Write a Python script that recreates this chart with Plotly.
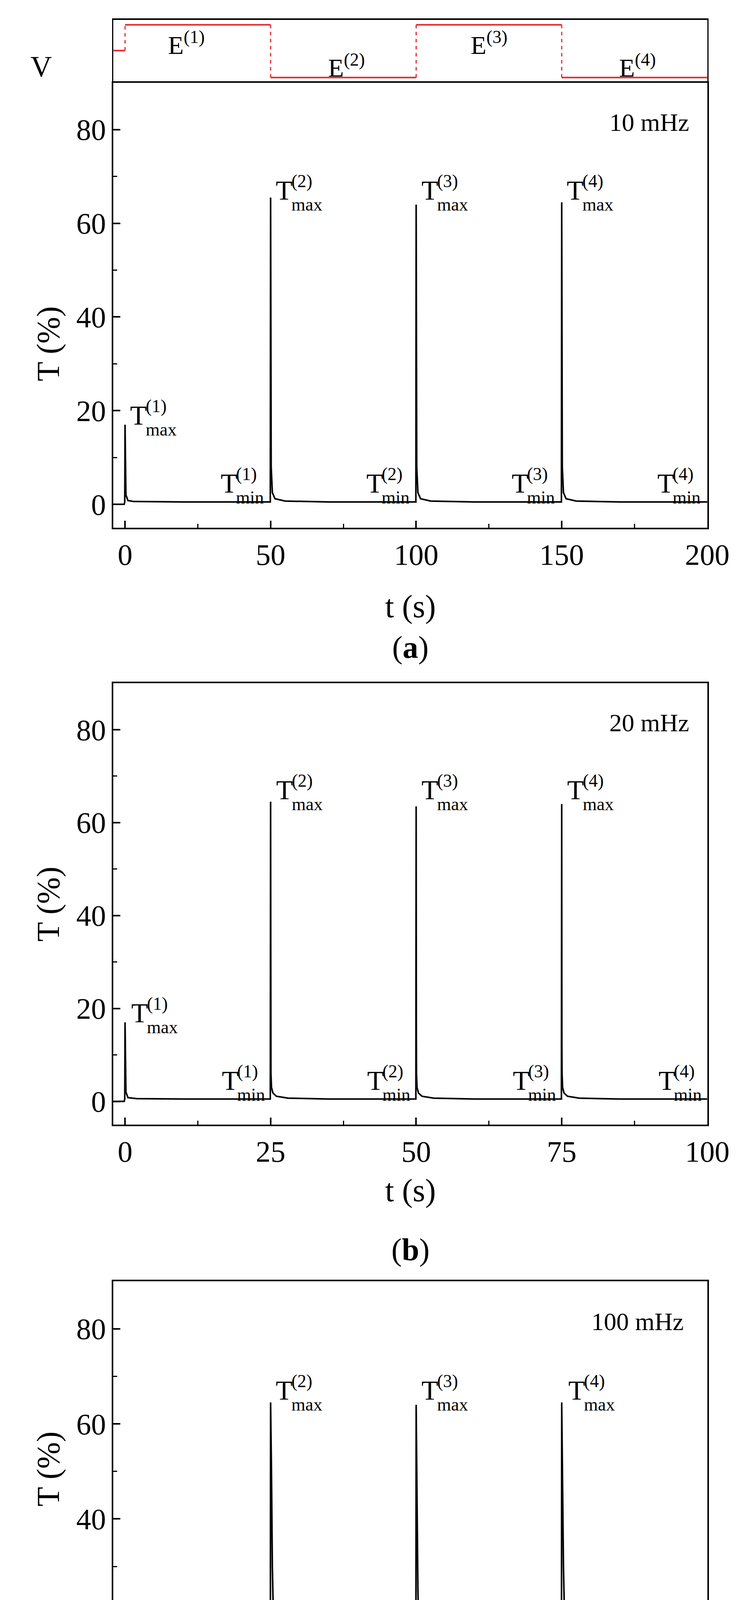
import plotly.graph_objects as go

W, H = 1915, 4806
FONT = "Liberation Serif"

# panel (a) 10 mHz
t_a = [-4, -0.3, -0.1, 0, 0.3, 1, 3, 20, 49.9, 50, 50.2, 50.6, 51.5, 55, 70,
       99.9, 100, 100.2, 100.6, 101.5, 105, 120, 149.9, 150, 150.2, 150.6, 151.5, 155, 170, 200]
T_a = [0, 0, 0.5, 17, 2, 0.8, 0.6, 0.5, 0.5, 65.5, 8, 2.5, 1.2, 0.7, 0.5,
       0.5, 64, 8, 2.5, 1.2, 0.7, 0.5, 0.5, 64.5, 8, 2.5, 1.2, 0.7, 0.5, 0.5]

# panel (b) 20 mHz
t_b = [-2, -0.15, -0.05, 0, 0.15, 0.5, 2, 10,
       24.95, 25, 25.03, 25.06, 25.15, 25.4, 26, 28, 35,
       49.95, 50, 50.03, 50.06, 50.15, 50.4, 51, 53, 60,
       74.95, 75, 75.03, 75.06, 75.15, 75.4, 76, 78, 85, 100]
T_b = [0, 0, 0.5, 17, 2, 0.8, 0.6, 0.5,
       0.5, 64.5, 33, 6, 3, 1.8, 1.1, 0.7, 0.5,
       0.5, 63.5, 17.5, 6, 3, 1.8, 1.1, 0.7, 0.5,
       0.5, 64, 12, 6, 3, 1.8, 1.1, 0.7, 0.5, 0.5]

# panel (c) 100 mHz
t_c = [-0.4, -0.05, -0.02, 0, 0.03, 0.06, 0.1, 0.2, 0.4, 1, 2,
       4.99, 5, 5.03, 5.06, 5.1, 5.15, 5.2, 5.3, 5.45, 5.6, 5.8, 6.1, 6.5, 7, 8, 9,
       9.99, 10, 10.03, 10.06, 10.1, 10.15, 10.2, 10.3, 10.45, 10.6, 10.8, 11.1, 11.5, 12, 13, 14,
       14.99, 15, 15.03, 15.06, 15.1, 15.15, 15.2, 15.3, 15.45, 15.6, 15.8, 16.1, 16.5, 17, 18, 19, 20]
T_c = [-0.2, -0.2, 0.3, 17.2, 8, 3, 1.5, 0.9, 0.7, 0.6, 0.5,
       0.4, 64.5, 50, 30, 18, 12, 9, 6, 4, 3, 2.2, 1.6, 1.2, 0.9, 0.6, 0.5,
       0.4, 64, 45, 25, 15, 10, 7.5, 5, 3.5, 2.6, 2, 1.5, 1.1, 0.8, 0.6, 0.5,
       0.4, 64.5, 50, 30, 18, 12, 9, 6, 4, 3, 2.2, 1.6, 1.2, 0.9, 0.6, 0.5, 0.4]

# voltage steps (top strip)
v_t = [-4, 0, 50, 100, 150, 200]
v_level = [0.5, 0.92, 0.06, 0.92, 0.06]
e_labels = ["E<sup>(1)</sup>", "E<sup>(2)</sup>", "E<sup>(3)</sup>", "E<sup>(4)</sup>"]
e_pos = [(21, 0.62), (76, 0.25), (125, 0.62), (176, 0.25)]

panels = [
    dict(t=t_a, T=T_a, xr=[-4, 200], dt=50, minor=25, tag="10 mHz", tagx=180,
         tmax=[(1.5, 19), (51.5, 67), (101.5, 67), (151.5, 67)],
         tmin=[(48, 4.5), (98, 4.5), (148, 4.5), (198, 4.5)],
         top=204, bot=1343, xlab=1497, letter="a", lety=1650),
    dict(t=t_b, T=T_b, xr=[-2, 100], dt=25, minor=12.5, tag="20 mHz", tagx=90,
         tmax=[(0.9, 19), (25.8, 67), (50.8, 67), (75.8, 67)],
         tmin=[(24.2, 4.5), (49.2, 4.5), (74.2, 4.5), (99.2, 4.5)],
         top=1741, bot=2871, xlab=3039, letter="b", lety=3191),
    dict(t=t_c, T=T_c, xr=[-0.4, 20], dt=5, minor=2.5, tag="100 mHz", tagx=17.6,
         tmax=[(0.4, 19), (5.15, 67), (10.15, 67), (15.2, 67)],
         tmin=[(4.8, 4.5), (9.8, 4.5), (14.8, 4.5), (19.8, 4.5)],
         top=3272, bot=4428, xlab=4616, letter="c", lety=4760),
]

x0, x1 = 291 / W, 1858 / W
def py(px):
    return 1 - px / H

fig = go.Figure()
annots = []

axis_common = dict(showline=True, linecolor="black", linewidth=4, mirror=True,
                   showgrid=False, zeroline=False, ticks="inside", ticklen=18,
                   tickwidth=4, tickcolor="black",
                   tickfont=dict(family=FONT, size=76, color="black"))

for i, p in enumerate(panels):
    n = i + 1
    xa, ya = f"x{n}", f"y{n}"
    fig.add_trace(go.Scatter(x=p["t"], y=p["T"], mode="lines", xaxis=xa, yaxis=ya,
                             line=dict(color="black", width=4), showlegend=False))
    fig.layout[f"xaxis{n}"] = dict(axis_common, domain=[x0, x1], anchor=ya, range=p["xr"],
                                   tick0=0, dtick=p["dt"],
                                   minor=dict(ticks="inside", ticklen=10, tickwidth=3,
                                              dtick=p["minor"], tick0=0, tickcolor="black"))
    fig.layout[f"yaxis{n}"] = dict(axis_common, domain=[py(p["bot"]), py(p["top"])],
                                   anchor=xa, range=[-5, 90], tickvals=[0, 20, 40, 60, 80],
                                   minor=dict(ticks="inside", ticklen=10, tickwidth=3,
                                              tickvals=[10, 30, 50, 70], tickcolor="black"))
    mid_x = (x0 + x1) / 2
    annots.append(dict(text="t (s)", xref="paper", yref="paper", x=mid_x, y=py(p["xlab"]),
                       showarrow=False, font=dict(family=FONT, size=82, color="black")))
    annots.append(dict(text=f"(<b>{p['letter']}</b>)", xref="paper", yref="paper", x=mid_x,
                       y=py(p["lety"]), showarrow=False,
                       font=dict(family=FONT, size=80, color="black")))
    annots.append(dict(text="T (%)", xref="paper", yref="paper", x=70 / W,
                       y=py((p["top"] + p["bot"]) / 2), textangle=-90, showarrow=False,
                       font=dict(family=FONT, size=82, color="black")))
    annots.append(dict(text=p["tag"], xref=xa, yref=ya, x=p["tagx"], y=81.5,
                       showarrow=False, font=dict(family=FONT, size=64, color="black")))
    for k, (tx, ty) in enumerate(p["tmax"]):
        annots.append(dict(text="T", xref=xa, yref=ya, x=tx, y=ty, xanchor="left",
                           showarrow=False, font=dict(family=FONT, size=70, color="black")))
        annots.append(dict(text=f"({k + 1})<br>max", xref=xa, yref=ya, x=tx, y=ty,
                           xanchor="left", xshift=40, yshift=-6, showarrow=False, align="left",
                           font=dict(family=FONT, size=46, color="black")))
    for k, (tx, ty) in enumerate(p["tmin"]):
        annots.append(dict(text=f"({k + 1})<br>min", xref=xa, yref=ya, x=tx, y=ty,
                           xanchor="right", yshift=-6, showarrow=False, align="left",
                           font=dict(family=FONT, size=46, color="black")))
        annots.append(dict(text="T", xref=xa, yref=ya, x=tx, y=ty, xanchor="right",
                           xshift=-68, showarrow=False,
                           font=dict(family=FONT, size=70, color="black")))

# voltage strip
for j in range(len(v_level)):
    fig.add_trace(go.Scatter(x=[v_t[j], v_t[j + 1]], y=[v_level[j], v_level[j]], mode="lines",
                             xaxis="x4", yaxis="y4", line=dict(color="#e8262b", width=4),
                             showlegend=False))
    if j > 0:
        fig.add_trace(go.Scatter(x=[v_t[j], v_t[j]], y=[v_level[j - 1], v_level[j]],
                                 mode="lines", xaxis="x4", yaxis="y4",
                                 line=dict(color="#e8262b", width=3, dash="dash"),
                                 showlegend=False))
fig.layout["xaxis4"] = dict(domain=[x0, x1], anchor="y4", range=[-4, 200], showline=True,
                            linecolor="black", linewidth=4, mirror=True, showgrid=False,
                            zeroline=False, showticklabels=False, ticks="")
fig.layout["yaxis4"] = dict(domain=[py(200), py(43)], anchor="x4", range=[0, 1], showline=True,
                            linecolor="black", linewidth=3, mirror=True, showgrid=False,
                            zeroline=False, showticklabels=False, ticks="")
for lab, (ex, ey) in zip(e_labels, e_pos):
    annots.append(dict(text=lab, xref="x4", yref="y4", x=ex, y=ey, showarrow=False,
                       font=dict(family=FONT, size=66, color="black")))
annots.append(dict(text="V", xref="paper", yref="paper", x=70 / W, y=py(118), showarrow=False,
                   font=dict(family=FONT, size=76, color="black")))

fig.update_layout(width=W, height=H, margin=dict(l=0, r=0, t=0, b=0),
                  paper_bgcolor="white", plot_bgcolor="white", annotations=annots)

fig.write_html("out.html")
